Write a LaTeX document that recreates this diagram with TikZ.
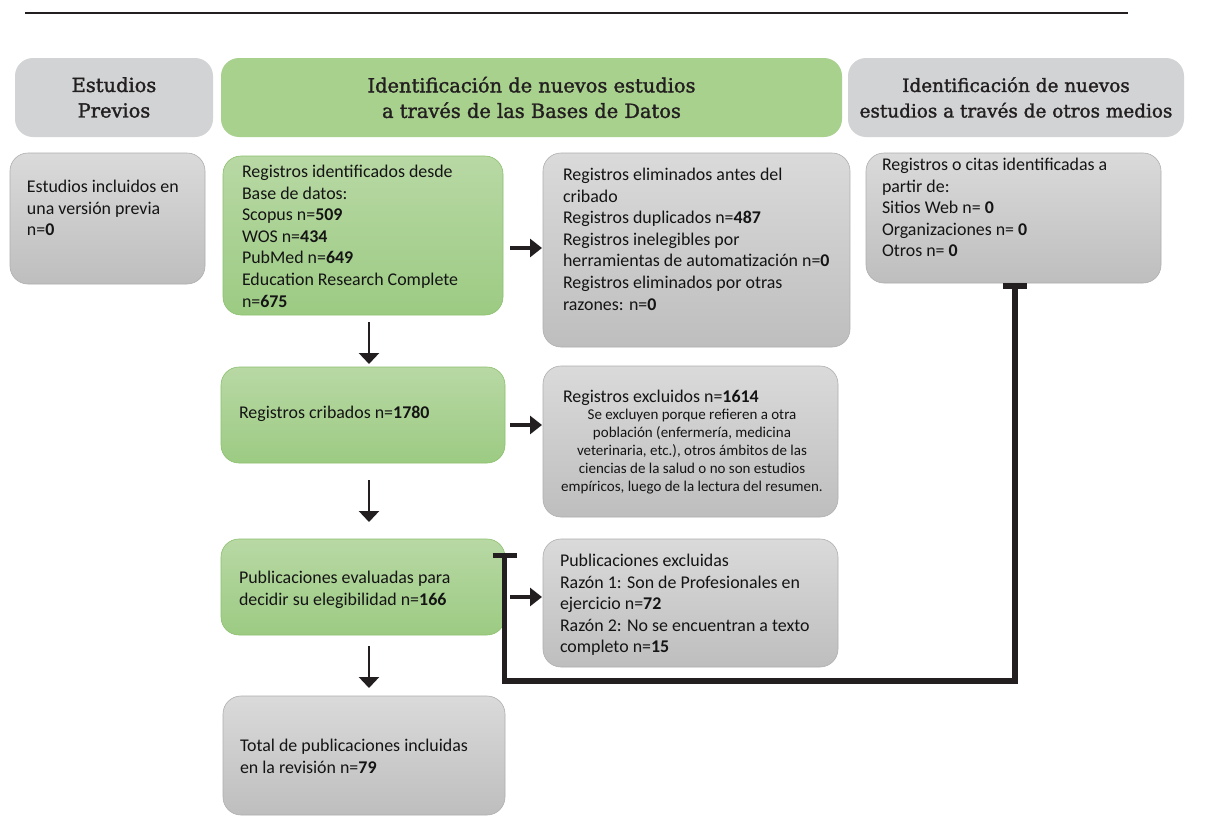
\documentclass[tikz,border=0pt]{standalone}
\usepackage{fontspec}
\setmainfont{Carlito}
\newfontfamily\headfont[FakeBold=1.6]{DejaVu Serif}
\usetikzlibrary{arrows.meta}
\definecolor{hgray}{RGB}{209,211,212}
\definecolor{hgreen}{RGB}{169,209,142}
\definecolor{gtop}{RGB}{218,218,218}
\definecolor{gbot}{RGB}{190,190,190}
\definecolor{gedge}{RGB}{175,175,175}
\definecolor{ntop}{RGB}{184,216,164}
\definecolor{nbot}{RGB}{156,203,131}
\definecolor{nedge}{RGB}{140,192,110}
\definecolor{ink}{RGB}{35,31,32}
\definecolor{txtc}{RGB}{20,20,20}
\begin{document}
\begin{tikzpicture}[x=1pt,y=-1pt,
  hdr/.style={rounded corners=18pt, inner sep=0pt, outer sep=0pt, anchor=north west,
    align=center, text=ink, font=\headfont\fontsize{19.4}{25.5}\selectfont},
  hgraybox/.style={hdr, fill=hgray},
  hgreenbox/.style={hdr, fill=hgreen},
  bx/.style={rounded corners=18pt, inner sep=0pt, outer sep=0pt, anchor=north west, line width=0.6pt},
  graybox/.style={bx, draw=gedge, top color=gtop, bottom color=gbot},
  greenbox/.style={bx, draw=nedge, top color=ntop, bottom color=nbot},
  txt/.style={inner sep=0pt, outer sep=0pt, anchor=north west, align=left, text=txtc,
    font=\fontsize{17.9}{21.6}\selectfont},
  smalltxt/.style={inner sep=0pt, outer sep=0pt, anchor=north, align=center, text=txtc,
    font=\fontsize{15}{18}\selectfont},
  rarrow/.style={draw=ink, line width=3.5pt, -{Triangle[length=12pt,width=18pt]}},
  darrow/.style={draw=ink, line width=2.6pt, -{Triangle[length=11pt,width=20pt]}},
  conn/.style={draw=ink, line width=5.8pt, line join=miter, line cap=butt}
]
\useasboundingbox (0,0) rectangle (1214,827);
\fill[white] (0,0) rectangle (1214,827);
\coordinate (rl) at (25,13);
\coordinate (rr) at (1128,13);
\draw[ink, line width=1.2pt] (rl) -- (rr);

% headers
\node[hgraybox, minimum width=198pt, minimum height=79pt] (h1) at (15,58) {Estudios\\Previos};
\node[hgreenbox, minimum width=621pt, minimum height=79pt] (h2) at (221,58) {Identificación de nuevos estudios\\a través de las Bases de Datos};
\node[hgraybox, minimum width=336pt, minimum height=79pt, font=\headfont\fontsize{18.4}{25.5}\selectfont] (h3) at (848,58) {Identificación de nuevos\\estudios a través de otros medios};

% boxes
\node[graybox, minimum width=195pt, minimum height=131pt] (b0) at (10,153) {};
\node[greenbox, minimum width=280pt, minimum height=159pt] (b1) at (223,156) {};
\node[graybox, minimum width=307pt, minimum height=194pt] (b2) at (543,153) {};
\node[graybox, minimum width=295pt, minimum height=130pt] (b3) at (866,153) {};
\node[greenbox, minimum width=284pt, minimum height=96pt] (b4) at (221,367) {};
\node[graybox, minimum width=295pt, minimum height=151pt] (b5) at (543,366) {};
\node[greenbox, minimum width=284pt, minimum height=96pt] (b6) at (221,539) {};
\node[graybox, minimum width=295pt, minimum height=128pt] (b7) at (543,539) {};
\node[graybox, minimum width=282pt, minimum height=119pt] (b8) at (223,696) {};

% texts
\node[txt] (t0) at (27,180) {Estudios incluidos en\\una versión previa\\n=\textbf{0}};
\node[txt] (t1) at (242,165) {Registros identificados desde\\Base de datos:\\Scopus n=\textbf{509}\\WOS n=\textbf{434}\\PubMed n=\textbf{649}\\Education Research Complete\\n=\textbf{675}};
\node[txt] (t2) at (563,168) {Registros eliminados antes del\\cribado\\Registros duplicados n=\textbf{487}\\Registros inelegibles por\\herramientas de automatización n=\textbf{0}\\Registros eliminados por otras\\razones: n=\textbf{0}};
\node[txt] (t3) at (882,158) {Registros o citas identificadas a\\partir de:\\Sitios Web n= \textbf{0}\\Organizaciones n= \textbf{0}\\Otros n= \textbf{0}};
\node[txt] (t4) at (239,406) {Registros cribados n=\textbf{1780}};
\node[txt] (t5) at (563,390) {Registros excluidos n=\textbf{1614}};
\node[smalltxt] (t5b) at (692,409) {Se excluyen porque refieren a otra\\población (enfermería, medicina\\veterinaria, etc.), otros ámbitos de las\\ciencias de la salud o no son estudios\\empíricos, luego de la lectura del resumen.};
\node[txt] (t6) at (239,571) {Publicaciones evaluadas para\\decidir su elegibilidad n=\textbf{166}};
\node[txt] (t7) at (560,554) {Publicaciones excluidas\\Razón 1: Son de Profesionales en\\ejercicio n=\textbf{72}\\Razón 2: No se encuentran a texto\\completo n=\textbf{15}};
\node[txt] (t8) at (240,739) {Total de publicaciones incluidas\\en la revisión n=\textbf{79}};

% right arrows
\draw[rarrow] ([xshift=7pt]b1.east |- 0,248) -- ([xshift=-1pt]b2.west |- 0,248);
\draw[rarrow] ([xshift=5pt]b4.east |- 0,425) -- ([xshift=-1pt]b5.west |- 0,425);
\draw[rarrow] ([xshift=5pt]b6.east |- 0,597) -- ([xshift=-1pt]b7.west |- 0,597);

% down arrows
\draw[darrow] (b1.south -| 369,0) ++(0,7) -- ([yshift=3pt]b4.north -| 369,0);
\draw[darrow] (b4.south -| 369,0) ++(0,17) -- ([yshift=17pt]b6.north -| 369,0);
\draw[darrow] (b6.south -| 369,0) ++(0,11) -- ([yshift=8pt]b8.north -| 369,0);

% connector from other sources
\coordinate (c1) at (1015,286);
\coordinate (c2) at (1015,681);
\coordinate (c3) at (504.5,681);
\coordinate (c4) at (504.5,555.5);
\draw[conn] ([xshift=-12pt]c1) -- ([xshift=12pt]c1);
\draw[conn] (c1) -- (c2) -- (c3) -- (c4);
\draw[conn] ([xshift=-12pt]c4) -- ([xshift=12pt]c4);
\end{tikzpicture}
\end{document}
